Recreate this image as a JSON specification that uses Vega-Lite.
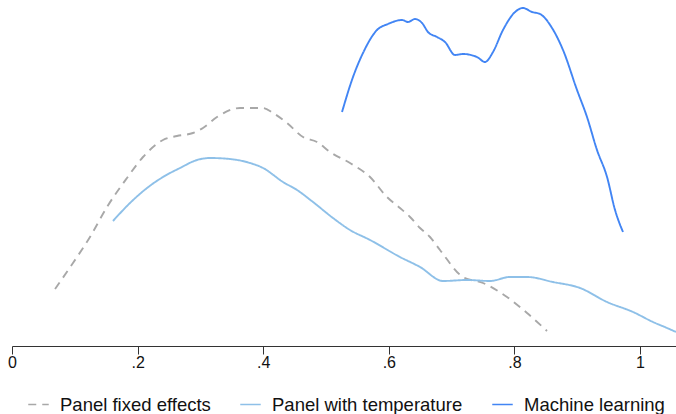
{
  "$schema": "https://vega.github.io/schema/vega-lite/v6.json",
  "width": 664,
  "height": 346,
  "autosize": "none",
  "padding": {"left": 12, "top": 0, "right": 0, "bottom": 68},
  "config": {
    "view": {"stroke": null},
    "font": "Liberation Sans"
  },
  "data": {
    "values": [
      {"series": "Panel fixed effects", "x": 0.0685, "y": 0.57},
      {"series": "Panel fixed effects", "x": 0.0971, "y": 0.83},
      {"series": "Panel fixed effects", "x": 0.1242, "y": 1.09},
      {"series": "Panel fixed effects", "x": 0.1513, "y": 1.39},
      {"series": "Panel fixed effects", "x": 0.1831, "y": 1.68},
      {"series": "Panel fixed effects", "x": 0.2086, "y": 1.89},
      {"series": "Panel fixed effects", "x": 0.2404, "y": 2.06},
      {"series": "Panel fixed effects", "x": 0.2627, "y": 2.10},
      {"series": "Panel fixed effects", "x": 0.2882, "y": 2.13},
      {"series": "Panel fixed effects", "x": 0.3041, "y": 2.18},
      {"series": "Panel fixed effects", "x": 0.3264, "y": 2.29},
      {"series": "Panel fixed effects", "x": 0.3631, "y": 2.38},
      {"series": "Panel fixed effects", "x": 0.3997, "y": 2.38},
      {"series": "Panel fixed effects", "x": 0.4156, "y": 2.33},
      {"series": "Panel fixed effects", "x": 0.4379, "y": 2.23},
      {"series": "Panel fixed effects", "x": 0.4634, "y": 2.09},
      {"series": "Panel fixed effects", "x": 0.4857, "y": 2.04},
      {"series": "Panel fixed effects", "x": 0.5064, "y": 1.94},
      {"series": "Panel fixed effects", "x": 0.5382, "y": 1.83},
      {"series": "Panel fixed effects", "x": 0.5701, "y": 1.69},
      {"series": "Panel fixed effects", "x": 0.5971, "y": 1.49},
      {"series": "Panel fixed effects", "x": 0.6178, "y": 1.38},
      {"series": "Panel fixed effects", "x": 0.6338, "y": 1.29},
      {"series": "Panel fixed effects", "x": 0.6497, "y": 1.18},
      {"series": "Panel fixed effects", "x": 0.6656, "y": 1.09},
      {"series": "Panel fixed effects", "x": 0.6815, "y": 0.96},
      {"series": "Panel fixed effects", "x": 0.7182, "y": 0.69},
      {"series": "Panel fixed effects", "x": 0.75, "y": 0.63},
      {"series": "Panel fixed effects", "x": 0.7882, "y": 0.49},
      {"series": "Panel fixed effects", "x": 0.8201, "y": 0.33},
      {"series": "Panel fixed effects", "x": 0.8519, "y": 0.15},
      {"series": "Panel with temperature", "x": 0.1608, "y": 1.25},
      {"series": "Panel with temperature", "x": 0.1879, "y": 1.43},
      {"series": "Panel with temperature", "x": 0.215, "y": 1.58},
      {"series": "Panel with temperature", "x": 0.2404, "y": 1.69},
      {"series": "Panel with temperature", "x": 0.2675, "y": 1.78},
      {"series": "Panel with temperature", "x": 0.2946, "y": 1.86},
      {"series": "Panel with temperature", "x": 0.3153, "y": 1.88},
      {"series": "Panel with temperature", "x": 0.3471, "y": 1.87},
      {"series": "Panel with temperature", "x": 0.379, "y": 1.83},
      {"series": "Panel with temperature", "x": 0.3997, "y": 1.78},
      {"series": "Panel with temperature", "x": 0.4315, "y": 1.64},
      {"series": "Panel with temperature", "x": 0.4538, "y": 1.56},
      {"series": "Panel with temperature", "x": 0.4793, "y": 1.44},
      {"series": "Panel with temperature", "x": 0.5111, "y": 1.28},
      {"series": "Panel with temperature", "x": 0.5382, "y": 1.16},
      {"series": "Panel with temperature", "x": 0.5701, "y": 1.06},
      {"series": "Panel with temperature", "x": 0.6178, "y": 0.89},
      {"series": "Panel with temperature", "x": 0.6497, "y": 0.79},
      {"series": "Panel with temperature", "x": 0.6863, "y": 0.65},
      {"series": "Panel with temperature", "x": 0.7245, "y": 0.66},
      {"series": "Panel with temperature", "x": 0.7611, "y": 0.65},
      {"series": "Panel with temperature", "x": 0.793, "y": 0.69},
      {"series": "Panel with temperature", "x": 0.8201, "y": 0.69},
      {"series": "Panel with temperature", "x": 0.8615, "y": 0.64},
      {"series": "Panel with temperature", "x": 0.9045, "y": 0.58},
      {"series": "Panel with temperature", "x": 0.9475, "y": 0.44},
      {"series": "Panel with temperature", "x": 0.9889, "y": 0.34},
      {"series": "Panel with temperature", "x": 1.0207, "y": 0.24},
      {"series": "Panel with temperature", "x": 1.043, "y": 0.18},
      {"series": "Panel with temperature", "x": 1.0573, "y": 0.14},
      {"series": "Machine learning", "x": 0.5255, "y": 2.34},
      {"series": "Machine learning", "x": 0.543, "y": 2.69},
      {"series": "Machine learning", "x": 0.5589, "y": 2.93},
      {"series": "Machine learning", "x": 0.5812, "y": 3.16},
      {"series": "Machine learning", "x": 0.5987, "y": 3.22},
      {"series": "Machine learning", "x": 0.621, "y": 3.26},
      {"series": "Machine learning", "x": 0.6306, "y": 3.24},
      {"series": "Machine learning", "x": 0.6417, "y": 3.27},
      {"series": "Machine learning", "x": 0.6529, "y": 3.23},
      {"series": "Machine learning", "x": 0.6624, "y": 3.14},
      {"series": "Machine learning", "x": 0.6768, "y": 3.09},
      {"series": "Machine learning", "x": 0.6895, "y": 3.04},
      {"series": "Machine learning", "x": 0.7054, "y": 2.91},
      {"series": "Machine learning", "x": 0.7182, "y": 2.92},
      {"series": "Machine learning", "x": 0.7404, "y": 2.89},
      {"series": "Machine learning", "x": 0.7532, "y": 2.84},
      {"series": "Machine learning", "x": 0.7659, "y": 2.94},
      {"series": "Machine learning", "x": 0.7818, "y": 3.16},
      {"series": "Machine learning", "x": 0.801, "y": 3.34},
      {"series": "Machine learning", "x": 0.8137, "y": 3.38},
      {"series": "Machine learning", "x": 0.828, "y": 3.34},
      {"series": "Machine learning", "x": 0.8408, "y": 3.32},
      {"series": "Machine learning", "x": 0.8599, "y": 3.18},
      {"series": "Machine learning", "x": 0.8774, "y": 2.96},
      {"series": "Machine learning", "x": 0.8997, "y": 2.56},
      {"series": "Machine learning", "x": 0.9156, "y": 2.29},
      {"series": "Machine learning", "x": 0.9315, "y": 1.96},
      {"series": "Machine learning", "x": 0.9475, "y": 1.69},
      {"series": "Machine learning", "x": 0.9602, "y": 1.36},
      {"series": "Machine learning", "x": 0.9729, "y": 1.14}
    ]
  },
  "mark": {"type": "line", "strokeWidth": 1.9, "interpolate": "monotone", "clip": true},
  "encoding": {
    "x": {
      "field": "x",
      "type": "quantitative",
      "scale": {"domain": [0, 1.0573], "nice": false, "zero": false},
      "axis": {
        "title": null,
        "values": [0, 0.2, 0.4, 0.6, 0.8, 1],
        "labelExpr": "datum.value == 0 ? '0' : datum.value == 1 ? '1' : replace(format(datum.value, '.1f'), '0.', '.')",
        "grid": false,
        "domainColor": "#333333",
        "tickColor": "#333333",
        "tickSize": 8,
        "labelFontSize": 16,
        "labelColor": "#111111",
        "labelPadding": 0,
        "labelFlush": false,
        "labelFont": "Liberation Sans"
      }
    },
    "y": {
      "field": "y",
      "type": "quantitative",
      "scale": {"domain": [0, 3.46], "nice": false},
      "axis": null
    },
    "color": {
      "field": "series",
      "type": "nominal",
      "scale": {
        "domain": ["Panel fixed effects", "Panel with temperature", "Machine learning"],
        "range": ["#a8a8a8", "#8ec0e8", "#4285f4"]
      },
      "legend": {
        "title": null,
        "orient": "none",
        "legendX": 15,
        "legendY": 393,
        "direction": "horizontal",
        "symbolType": "stroke",
        "symbolSize": 420,
        "symbolStrokeWidth": 1.6,
        "labelFontSize": 18.5,
        "labelFont": "Liberation Sans",
        "labelColor": "#111111",
        "labelOffset": 10,
        "columnPadding": 26,
        "labelLimit": 400
      }
    },
    "strokeDash": {
      "field": "series",
      "type": "nominal",
      "scale": {
        "domain": ["Panel fixed effects", "Panel with temperature", "Machine learning"],
        "range": [[8, 6], [1, 0], [1, 0]]
      },
      "legend": {
        "title": null,
        "orient": "none",
        "legendX": 15,
        "legendY": 393,
        "direction": "horizontal",
        "symbolType": "stroke",
        "symbolSize": 420,
        "symbolStrokeWidth": 1.6,
        "labelFontSize": 18.5,
        "labelFont": "Liberation Sans",
        "labelColor": "#111111",
        "labelOffset": 10,
        "columnPadding": 26,
        "labelLimit": 400
      }
    }
  }
}
